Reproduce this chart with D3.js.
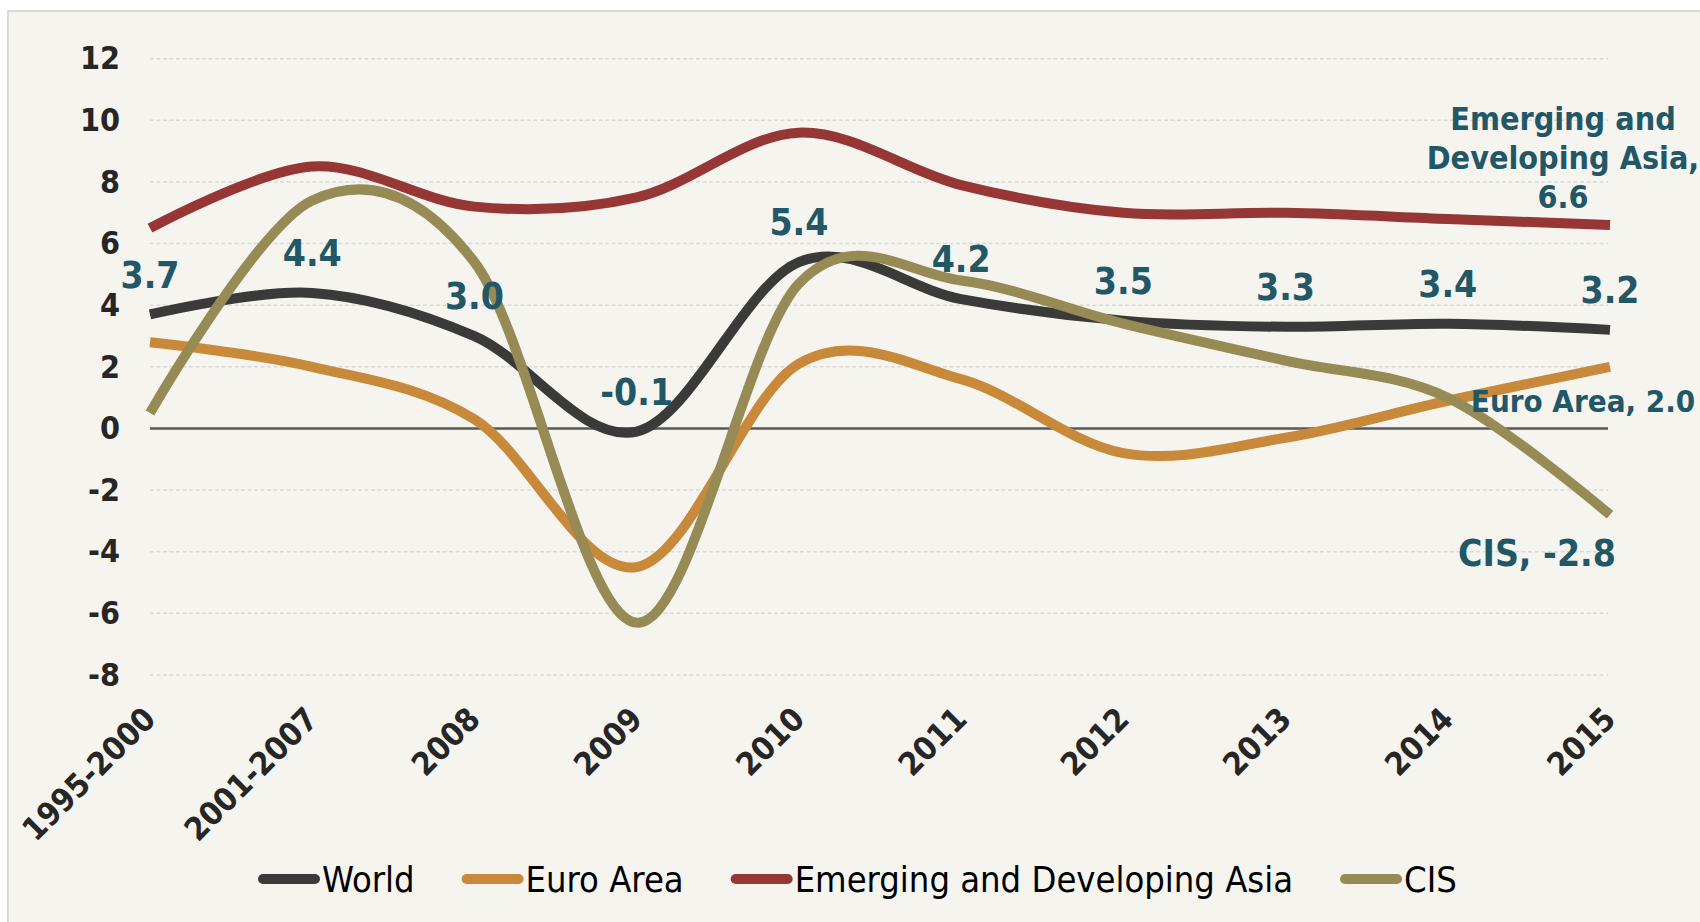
<!DOCTYPE html>
<html>
<head>
<meta charset="utf-8">
<script src="https://cdn.jsdelivr.net/npm/d3@7"></script>
<style>
  body { margin: 0; background: #ffffff; }
  svg text { font-family: "DejaVu Sans Condensed", "DejaVu Sans", sans-serif; }
</style>
</head>
<body>
<script>
// chart values
const categories = ["1995-2000", "2001-2007", "2008", "2009", "2010", "2011", "2012", "2013", "2014", "2015"];
const world = [3.7, 4.4, 3.0, -0.1, 5.4, 4.2, 3.5, 3.3, 3.4, 3.2];
const euroArea = [2.8, 2.0, 0.3, -4.5, 2.1, 1.6, -0.8, -0.3, 0.9, 2.0];
const emergingAsia = [6.5, 8.5, 7.2, 7.5, 9.6, 7.9, 7.0, 7.0, 6.8, 6.6];
const cis = [0.5, 7.4, 5.4, -6.3, 4.7, 4.8, 3.4, 2.2, 1.0, -2.8];

const seriesNames = ["World", "Euro Area", "Emerging and Developing Asia", "CIS"];
const seriesColors = ["#3a3a38", "#c8893a", "#963735", "#978b55"];
const yTicks = [-8, -6, -4, -2, 0, 2, 4, 6, 8, 10, 12];

// end-of-line notes on the right
const endNotes = [
    { lines: ["Emerging and", "Developing Asia,", "6.6"], x: 1563, y: 118, size: 32 },
    { lines: ["Euro Area, 2.0"], x: 1583, y: 401, size: 31 },
    { lines: ["CIS, -2.8"], x: 1537, y: 553, size: 37 }
];

const labelColor = "#215766";

class Chart {
    constructor(width, height){
        this.width = width;
        this.height = height;
        this.series = [world, euroArea, emergingAsia, cis];

        this.createSvg();
        this.buildScales();
        this.drawGrid();
        this.drawAxes();
        this.drawLines();
        this.drawLabels();
        this.drawLegend();
    }

    createSvg(){
        this.svg = d3.select("body")
            .append("svg")
            .attr("width", this.width)
            .attr("height", this.height);

        // light frame, continues past the right and bottom edge
        this.svg.append("rect")
            .attr("x", 8).attr("y", 11)
            .attr("width", this.width).attr("height", this.height)
            .attr("fill", "#f5f4ef")
            .attr("stroke", "#d9d9d9")
            .attr("stroke-width", 2);
    }

    buildScales(){
        this.x = d3.scalePoint()
            .domain(categories)
            .range([150, 1610]);

        this.y = d3.scaleLinear()
            .domain([-8, 12])
            .range([675, 58.7]);
    }

    drawGrid(){
        this.svg.append("g")
            .selectAll("line")
            .data(yTicks.filter(t => t !== 0))
            .enter().append("line")
            .attr("x1", 150).attr("x2", 1608)
            .attr("y1", d => this.y(d)).attr("y2", d => this.y(d))
            .attr("stroke", "#d9d9d9")
            .attr("stroke-width", 1.5)
            .attr("stroke-dasharray", "4,2.5");

        this.svg.append("line")
            .attr("x1", 150).attr("x2", 1608)
            .attr("y1", this.y(0)).attr("y2", this.y(0))
            .attr("stroke", "#595959")
            .attr("stroke-width", 2.5);
    }

    drawAxes(){
        let yAxis = d3.axisLeft(this.y)
            .tickValues(yTicks)
            .tickFormat(d => String(d))
            .tickSize(0)
            .tickPadding(0);

        let gy = this.svg.append("g")
            .attr("transform", "translate(120,0)")
            .call(yAxis);
        gy.select(".domain").remove();
        gy.selectAll("text")
            .attr("font-family", null)
            .style("font-size", "32px")
            .style("font-weight", "bold")
            .attr("fill", "#262626");

        let xAxis = d3.axisBottom(this.x)
            .tickSize(0)
            .tickPadding(0);

        let gx = this.svg.append("g")
            .call(xAxis);
        gx.select(".domain").remove();
        gx.selectAll("text")
            .attr("font-family", null)
            .attr("y", 0).attr("dy", 0)
            .attr("text-anchor", "end")
            .attr("transform", "translate(7,721) rotate(-45)")
            .style("font-size", "32px")
            .style("font-weight", "bold")
            .attr("fill", "#262626");
    }

    drawLines(){
        let line = d3.line()
            .x((d, i) => this.x(categories[i]))
            .y(d => this.y(d))
            .curve(d3.curveCardinal.tension(0));

        this.svg.append("g")
            .selectAll("path")
            .data(this.series)
            .enter().append("path")
            .attr("d", line)
            .attr("fill", "none")
            .attr("stroke", (d, i) => seriesColors[i])
            .attr("stroke-width", 10);
    }

    drawLabels(){
        // values of the World line, above each point
        this.svg.append("g")
            .selectAll("text")
            .data(world)
            .enter().append("text")
            .attr("x", (d, i) => this.x(categories[i]))
            .attr("y", d => this.y(d) - 40)
            .attr("dy", "0.36em")
            .attr("text-anchor", "middle")
            .style("font-size", "37px")
            .style("font-weight", "bold")
            .attr("fill", labelColor)
            .text(d => d.toFixed(1));

        let notes = this.svg.append("g")
            .selectAll("text")
            .data(endNotes)
            .enter().append("text")
            .attr("text-anchor", "middle")
            .style("font-size", d => d.size + "px")
            .style("font-weight", "bold")
            .attr("fill", labelColor);

        notes.selectAll("tspan")
            .data(d => d.lines.map((t, k) => ({ t, k, x: d.x, y: d.y })))
            .enter().append("tspan")
            .attr("x", d => d.x)
            .attr("y", d => d.y + d.k * 39)
            .attr("dy", "0.36em")
            .text(d => d.t);
    }

    drawLegend(){
        let legend = this.svg.append("g");
        let cursor = 258;
        const cy = 879;

        seriesNames.forEach((name, i) => {
            legend.append("line")
                .attr("x1", cursor + 5).attr("x2", cursor + 57)
                .attr("y1", cy).attr("y2", cy)
                .attr("stroke", seriesColors[i])
                .attr("stroke-width", 10)
                .attr("stroke-linecap", "round");

            let t = legend.append("text")
                .attr("x", cursor + 64)
                .attr("y", cy)
                .attr("dy", "0.36em")
                .style("font-size", "36px")
                .attr("fill", "#000")
                .text(name);

            cursor += 64 + t.node().getComputedTextLength() + 47;
        });
    }
}

new Chart(1700, 922);
</script>
</body>
</html>
